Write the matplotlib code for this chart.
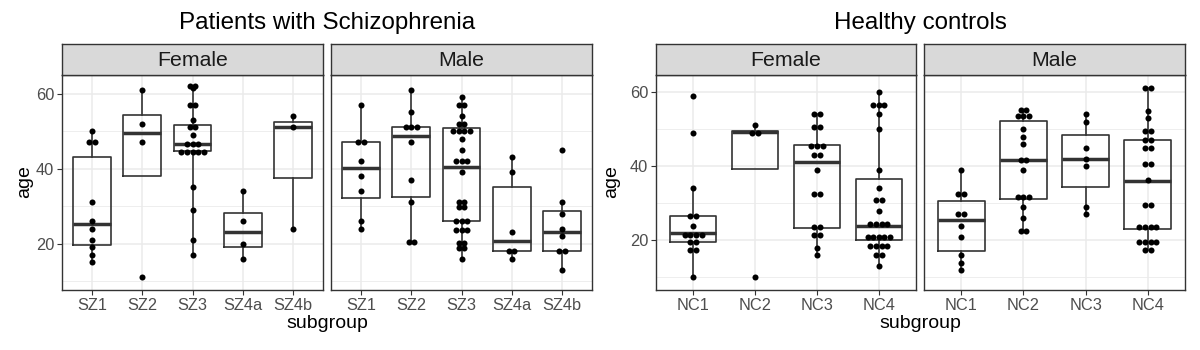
import numpy as np
import matplotlib
matplotlib.use("Agg")
import matplotlib.pyplot as plt
from matplotlib.ticker import FixedLocator

plt.rcParams['font.family'] = ['Liberation Sans', 'DejaVu Sans']

# ---- data ----
sz_groups = ["SZ1", "SZ2", "SZ3", "SZ4a", "SZ4b"]
nc_groups = ["NC1", "NC2", "NC3", "NC4"]

# dot positions (dotplot bins)
sz_female_ages = [
    [50, 47, 47, 31, 26, 24, 21, 19, 17, 15],
    [61, 52, 47, 11],
    [62, 62, 61.5, 57, 57, 53, 51, 51, 49, 46.7, 46.7, 46.7,
     44.5, 44.5, 44.5, 44.5, 44.5, 35, 29, 21, 17],
    [34, 26, 20, 16],
    [54, 51, 24],
]
sz_male_ages = [
    [57, 47, 47, 42, 38, 34, 26, 24],
    [61, 55, 51, 51, 51, 47, 37, 31, 20.5, 20.5],
    [59, 57, 57, 54, 52, 52, 50, 50, 50, 50, 48, 45, 42, 42, 42, 39,
     31, 31, 29.7, 29.7, 26, 26, 26, 23.6, 23.6, 23.6, 20.2, 20.2, 18.7, 18.7, 16],
    [43, 39, 23, 18, 18, 16],
    [45, 31, 28, 24, 22, 18, 18, 13],
]
nc_female_ages = [
    [59, 49, 34.1, 26.6, 26.6, 24, 21.5, 21.5, 21.5, 21.5, 19.6, 19.6, 17.5, 17.5, 10],
    [51, 49, 49, 10],
    [54, 54, 50.5, 50.5, 45.4, 45.4, 45.4, 43, 43, 39, 32.5, 32.5,
     23.5, 23.5, 21.5, 21.5, 18, 16],
    [60, 56.5, 56.5, 56.5, 54, 50, 39, 34, 31, 31, 28, 24.5, 24.5, 24.5, 24.5,
     21, 21, 21, 21, 21, 18.6, 18.6, 18.6, 18.6, 16, 16, 13],
]
nc_male_ages = [
    [39, 32.5, 32.5, 27, 27, 24, 21, 16, 14, 12],
    [55.1, 55.1, 53.5, 53.5, 53.5, 50, 48, 46, 41.6, 41.6, 39, 31.7, 31.7, 31.7,
     29, 26, 22.4, 22.4],
    [54, 52, 45, 42, 40, 29, 27],
    [61, 61, 55, 53, 49.5, 49.5, 47, 47, 45, 45, 40.5, 40.5, 36.3, 29.5, 29.5,
     23.6, 23.6, 23.6, 23.6, 19.5, 19.5, 19.5, 19.5, 17.5, 17.5],
]

# box statistics (whisker low, q1, median, q3, whisker high)
sz_female_box = {
    "whislo": [15, 38.0, 17, 16, 24],
    "q1": [19.6, 38.0, 44.8, 19.0, 37.5],
    "med": [25.2, 49.6, 46.7, 23.1, 51.0],
    "q3": [43.0, 54.3, 51.6, 28.1, 52.5],
    "whishi": [50, 61, 62, 34, 54],
}
sz_male_box = {
    "whislo": [24, 20.5, 16, 16, 13],
    "q1": [32.1, 32.5, 26.0, 18.0, 18.0],
    "med": [40.1, 48.6, 40.5, 20.6, 23.1],
    "q3": [47.1, 51.1, 50.8, 35.1, 28.8],
    "whishi": [57, 61, 59, 43, 31],
}
nc_female_box = {
    "whislo": [10, 39.2, 16, 13],
    "q1": [19.5, 39.2, 23.2, 20.0],
    "med": [22.1, 49.2, 41.0, 24.0],
    "q3": [26.6, 49.4, 45.7, 36.5],
    "whishi": [34, 51, 54, 60],
}
nc_male_box = {
    "whislo": [12, 22.4, 27, 17.5],
    "q1": [17.2, 31.2, 34.5, 23.0],
    "med": [25.5, 41.6, 42.0, 36.0],
    "q3": [30.7, 52.2, 48.5, 47.0],
    "whishi": [39, 55.1, 54.1, 61],
}

# ---- layout (pixels) ----
W, H = 1200, 350
fig = plt.figure(figsize=(W / 100, H / 100), dpi=100)

GRID = "#EBEBEB"
DARK = "#333333"
TICKC = "#4D4D4D"
DOT_PX = 5.6


def fbox(x0, x1, ytop, ybot):
    return [x0 / W, 1 - ybot / H, (x1 - x0) / W, (ybot - ytop) / H]


def draw_panel(x0, x1, groups, ages, box, ylim, label, show_y):
    ax = fig.add_axes(fbox(x0, x1, 75, 290))
    n = len(groups)
    pos = np.arange(1, n + 1)

    stats = []
    for i in range(n):
        stats.append({k: box[k][i] for k in ["whislo", "q1", "med", "q3", "whishi"]})
    ax.bxp(stats, positions=pos, widths=0.75, showcaps=False, showfliers=False,
           manage_ticks=False,
           boxprops=dict(color=DARK, lw=1.2),
           whiskerprops=dict(color=DARK, lw=1.2),
           medianprops=dict(color=DARK, lw=2.5))

    # stack equal values side by side, centred
    px_per_unit = (x1 - x0) / (n + 0.2)
    step = DOT_PX / px_per_unit
    for i, vals in enumerate(ages):
        uniq, counts = np.unique(np.array(vals, dtype=float), return_counts=True)
        xs, ys = [], []
        for v, c in zip(uniq, counts):
            for j in range(c):
                xs.append(pos[i] + (j - (c - 1) / 2) * step)
                ys.append(v)
        ax.scatter(xs, ys, s=19, color="black", zorder=5, linewidths=0)

    ax.set_xlim(0.4, n + 0.6)
    ax.set_ylim(*ylim)
    ax.set_facecolor("white")
    ax.set_xticks(pos)
    ax.set_xticklabels(groups)
    ax.set_yticks([20, 40, 60])
    ax.yaxis.set_minor_locator(FixedLocator([10, 30, 50]))
    ax.grid(which="major", color=GRID, lw=1.1)
    ax.grid(which="minor", axis="y", color=GRID, lw=0.6)
    ax.set_axisbelow(True)
    ax.tick_params(axis="x", length=3.5, width=0.8, color=DARK,
                   labelcolor=TICKC, labelsize=11.8, pad=2)
    ax.tick_params(axis="y", which="major", length=3.5 if show_y else 0,
                   width=0.8, color=DARK, labelcolor=TICKC, labelsize=11.8,
                   pad=2, labelleft=show_y)
    ax.tick_params(axis="y", which="minor", length=0)
    for s in ax.spines.values():
        s.set_color(DARK)
        s.set_linewidth(1.0)

    st = fig.add_axes(fbox(x0, x1, 44, 75))
    st.set_facecolor("#D9D9D9")
    st.set_xticks([])
    st.set_yticks([])
    for s in st.spines.values():
        s.set_color(DARK)
        s.set_linewidth(1.0)
    st.text(0.5, 0.47, label, ha="center", va="center", fontsize=15.3,
            color="#1A1A1A", transform=st.transAxes)
    return ax


sz_lim = (7.6, 65.0)
nc_lim = (6.6, 64.6)
draw_panel(62, 323, sz_groups, sz_female_ages, sz_female_box, sz_lim, "Female", True)
draw_panel(331, 592, sz_groups, sz_male_ages, sz_male_box, sz_lim, "Male", False)
draw_panel(656, 916, nc_groups, nc_female_ages, nc_female_box, nc_lim, "Female", True)
draw_panel(924, 1185, nc_groups, nc_male_ages, nc_male_box, nc_lim, "Male", False)

# titles and axis labels
for cx, lx, title in [(327, 25, "Patients with Schizophrenia"),
                      (920, 612, "Healthy controls")]:
    fig.text(cx / W, 1 - 23 / H, title, ha="center", va="center", fontsize=17.4)
    fig.text(cx / W, 1 - 323 / H, "subgroup", ha="center", va="center", fontsize=14)
    fig.text(lx / W, 1 - 182 / H, "age", ha="center", va="center",
             rotation=90, fontsize=14)

fig.savefig("out.png", dpi=100, facecolor="white")
